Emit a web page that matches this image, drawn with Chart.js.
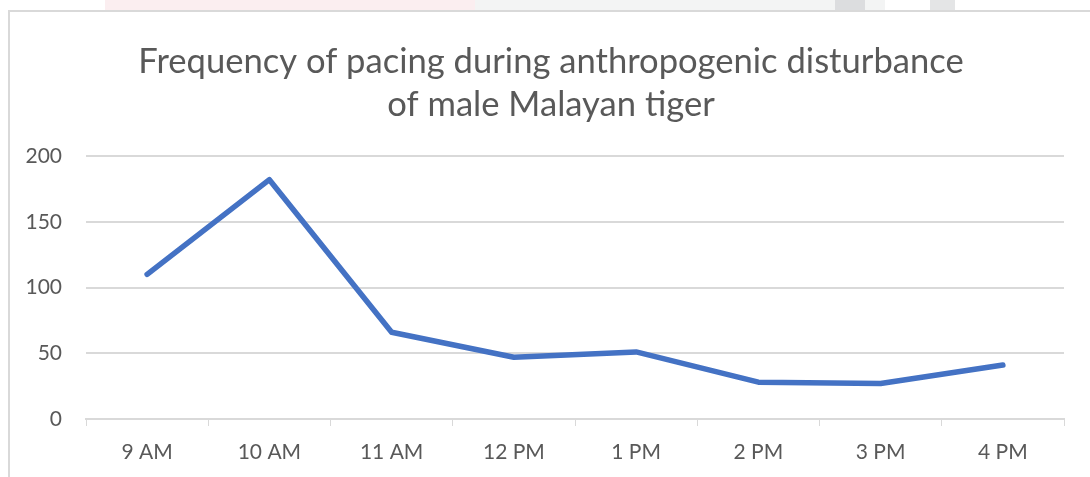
<!DOCTYPE html>
<html>
<head>
<meta charset="utf-8">
<script src="https://cdn.jsdelivr.net/npm/chart.js@4"></script>
<style>
  html, body { margin: 0; padding: 0; background: #fff; }
  #wrap { position: relative; width: 1090px; height: 477px; overflow: hidden; }
  #frame { position: absolute; left: 8px; top: 10px; width: 1100px; height: 480px;
           border: 2px solid #d9d9d9; box-sizing: border-box; }
  .mark { position: absolute; top: 0; height: 10px; }
  canvas { position: absolute; left: 0; top: 0; }
</style>
</head>
<body>
<div id="wrap">
  <div class="mark" style="left:105px;width:370px;background:#fbeef0"></div>
  <div class="mark" style="left:475px;width:410px;background:#f3f4f4"></div>
  <div class="mark" style="left:835px;width:30px;background:#dcdddf"></div>
  <div class="mark" style="left:930px;width:25px;background:#e4e5e6"></div>
  <div id="frame"></div>
  <canvas id="paceChart" width="1090" height="477"></canvas>
</div>
<script>
const hours = ['9 AM', '10 AM', '11 AM', '12 PM', '1 PM', '2 PM', '3 PM', '4 PM'];
const pacing = [110, 182, 66, 47, 51, 28, 27, 41];
const yTicks = [0, 50, 100, 150, 200];
const titleLines = ['Frequency of pacing during anthropogenic disturbance', 'of male Malayan tiger'];

// the original title is centred a bit left of the canvas centre, so draw it by hand
const titlePlugin = {
  id: 'offsetTitle',
  afterDraw(chart) {
    const ctx = chart.ctx;
    ctx.save();
    ctx.font = '34.6px Lato';
    ctx.fillStyle = '#595959';
    ctx.textAlign = 'center';
    ctx.textBaseline = 'middle';
    titleLines.forEach((t, i) => ctx.fillText(t, 551, 62 + i * 43));
    ctx.restore();
  }
};

window.onload = function () {
  const paceChart = new Chart(document.getElementById('paceChart'), {
    type: 'line',
    data: {
      labels: hours,
      datasets: [{
        label: 'Pacing',
        data: pacing,
        borderColor: '#4472c4',
        borderWidth: 5.5,
        borderCapStyle: 'round',
        borderJoinStyle: 'round',
        pointRadius: 0,
        tension: 0
      }]
    },
    options: {
      responsive: false,
      animation: false,
      layout: { padding: { top: 156, right: 26, left: 0, bottom: 0 } },
      plugins: {
        legend: { display: false },
        tooltip: { enabled: false },
        title: { display: false }
      },
      scales: {
        x: {
          offset: true,
          afterFit: function (scale) { scale.height = 58; },
          grid: { display: true, drawOnChartArea: false, drawTicks: true, tickLength: 7, color: '#d9d9d9', offset: true },
          border: { color: '#d9d9d9', width: 2 },
          ticks: { color: '#595959', font: { family: 'Lato', size: 21 }, padding: 14 }
        },
        y: {
          min: 0,
          max: 200,
          afterBuildTicks: function (scale) { scale.ticks = yTicks.map(v => ({ value: v })); },
          afterFit: function (scale) { scale.width = 86; },
          grid: { color: '#d9d9d9', lineWidth: 2, drawTicks: false },
          border: { display: false },
          ticks: { color: '#595959', font: { family: 'Lato', size: 21 }, padding: 24 }
        }
      }
    },
    plugins: [titlePlugin]
  });
};
</script>
</body>
</html>
